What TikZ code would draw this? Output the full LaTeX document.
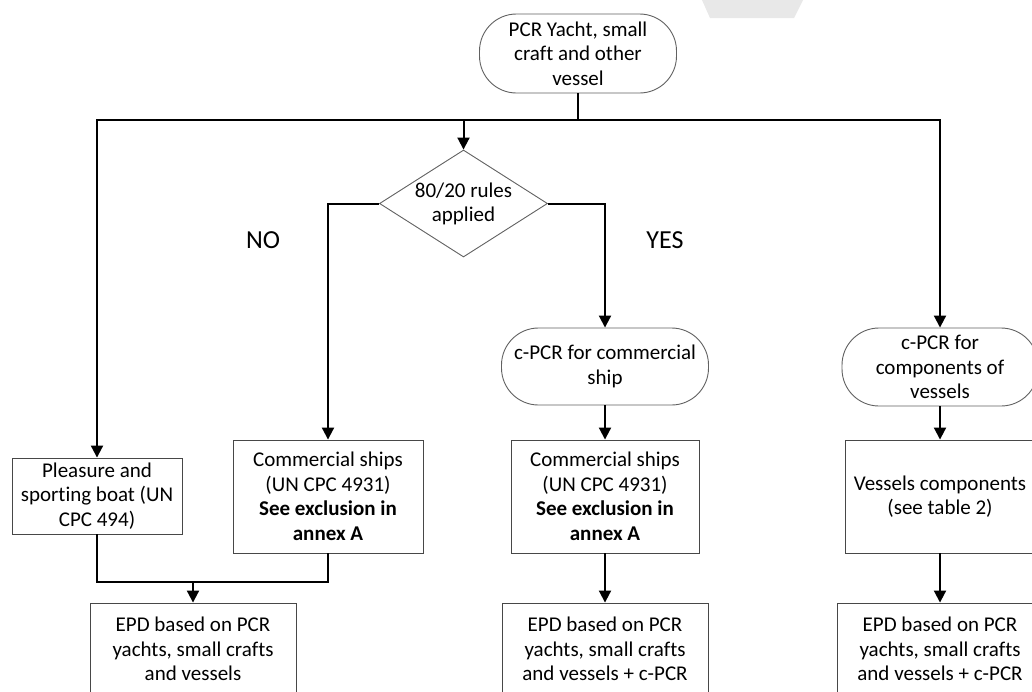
\documentclass[tikz,border=0pt]{standalone}
\usepackage{fontspec}
\setmainfont[Ligatures=NoCommon]{Carlito}
\usetikzlibrary{shapes.geometric,arrows.meta}
\begin{document}
\begin{tikzpicture}[x=1pt,y=-1pt,
  every node/.style={font=\fontsize{21}{24.5}\selectfont, align=center, text=black},
  rbox/.style={draw=black!72, line width=0.9pt, rectangle, inner sep=0pt},
  term/.style={draw=black!62, line width=0.9pt, rectangle, rounded corners=37pt, inner sep=0pt},
  decide/.style={draw=black!62, line width=0.9pt, diamond, aspect=1.57, inner sep=0pt},
  conn/.style={line width=2pt, black, line join=miter},
  arr/.style={conn, -{Triangle[length=12pt,width=12pt]}},
  lbl/.style={font=\fontsize{26}{30}\selectfont}
]
\clip (0,0) rectangle (1032,691);
\fill[white] (0,0) rectangle (1032,691);
\fill[black!9] (702,0) -- (803,0) -- (794,18) -- (710,18) -- cycle;

\node[term, minimum width=197pt, minimum height=79pt] (top) at (578,53.5) {PCR Yacht, small\\craft and other\\vessel};
\node[decide, minimum width=168pt, minimum height=107pt] (dia) at (463.5,203.5) {\rule{0pt}{15pt}80/20 rules\\applied};
\node[lbl] (no) at (263,240) {NO};
\node[lbl] (yes) at (665,240) {YES};
\node[term, minimum width=207pt, minimum height=77pt] (cp1) at (605,366.5) {c-PCR for commercial\\ship};
\node[term, minimum width=196pt, minimum height=78pt] (cp2) at (940,367) {c-PCR for\\components of\\vessels};
\node[rbox, minimum width=170pt, minimum height=76pt] (pl) at (97,496) {Pleasure and\\sporting boat (UN\\CPC 494)};
\node[rbox, minimum width=190pt, minimum height=113pt] (c1) at (328,496.5) {Commercial ships\\(UN CPC 4931)\\\textbf{See exclusion in}\\\textbf{annex A}};
\node[rbox, minimum width=188pt, minimum height=113pt] (c2) at (605,496.5) {Commercial ships\\(UN CPC 4931)\\\textbf{See exclusion in}\\\textbf{annex A}};
\node[rbox, minimum width=190pt, minimum height=113pt] (vc) at (940,496.5) {Vessels components\\(see table 2)};
\node[rbox, minimum width=206pt, minimum height=92pt] (e1) at (193,649) {EPD based on PCR\\yachts, small crafts\\and vessels};
\node[rbox, minimum width=206pt, minimum height=92pt] (e2) at (605,649) {EPD based on PCR\\yachts, small crafts\\and vessels + c-PCR};
\node[rbox, minimum width=206pt, minimum height=92pt] (e3) at (940,649) {EPD based on PCR\\yachts, small crafts\\and vessels + c-PCR};

\coordinate (bus) at (578,120);
\coordinate (m) at (193,582);

\draw[conn] (top.south) -- (bus);
\draw[arr] (bus) -| (pl.north);
\draw[arr] (bus) -| (dia.north);
\draw[arr] (bus) -| (cp2.north);
\draw[arr] (dia.west) -| (c1.north);
\draw[arr] (dia.east) -| (cp1.north);
\draw[arr] (cp1.south) -- (c2.north);
\draw[arr] (c2.south) -- (e2.north);
\draw[arr] (cp2.south) -- (vc.north);
\draw[arr] (vc.south) -- (e3.north);
\draw[conn] (pl.south) |- (c1.south |- m) -- (c1.south);
\draw[arr] (m) -- (e1.north);
\end{tikzpicture}
\end{document}
